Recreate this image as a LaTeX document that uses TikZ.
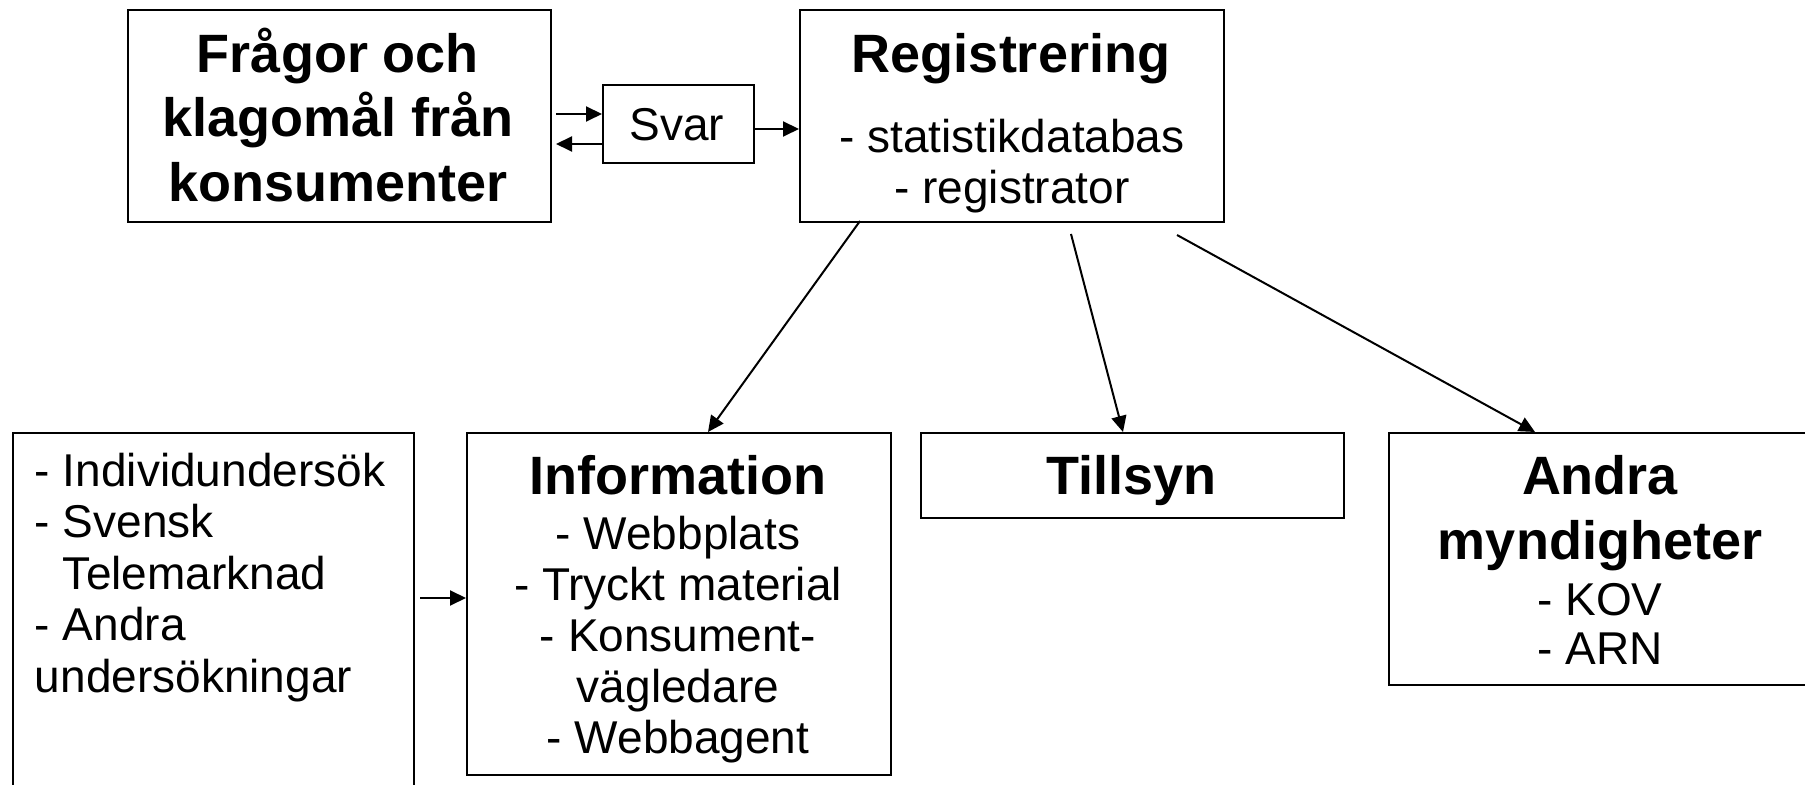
\documentclass[tikz,border=0pt]{standalone}
\usepackage{fontspec}
\setmainfont{Liberation Sans}
\usetikzlibrary{arrows.meta}
\tikzset{
  box/.style={draw, line width=1pt, inner sep=0pt, anchor=north west},
  ttl/.style={font=\fontsize{27}{32.25}\selectfont\bfseries, inner sep=0pt, anchor=base, align=center},
  lst/.style={font=\fontsize{23}{25.5}\selectfont, inner sep=0pt, anchor=base, align=center},
  arr/.style={line width=1pt, -{Triangle[length=8pt,width=7.5pt]}}
}
\begin{document}
\begin{tikzpicture}[x=0.5pt,y=-0.5pt]
\useasboundingbox (0,0) rectangle (1805,785);
% boxes
\node[box, minimum width=211.5pt, minimum height=106pt] (fr) at (127,9) {};
\node[box, minimum width=75.5pt, minimum height=39pt] (svar) at (602,84) {};
\node[box, minimum width=212pt, minimum height=106pt] (reg) at (799,9) {};
\node[box, minimum width=200.5pt, minimum height=190pt] (left) at (12,432) {};
\node[box, minimum width=212pt, minimum height=171pt] (info) at (466,432) {};
\node[box, minimum width=211.5pt, minimum height=42.5pt] (till) at (920,432) {};
\node[box, minimum width=212pt, minimum height=126pt] (andra) at (1388,432) {};
% texts (base anchor = baseline of last line)
\node[ttl] (frt) at (338,201.4) {Frågor och\\klagomål från\\konsumenter};
\node[lst] (svt) at (677,140.6) {Svar};
\node[ttl] (regt) at (1011,72.4) {Registrering};
\node[lst] (regl) at (1012,203.6) {- statistikdatabas\\- registrator};
\node[lst, anchor=base west, align=left, font=\fontsize{23}{25.75}\selectfont] (leftt) at (34.5,692.3) {- Individundersök\\- Svensk\\\hphantom{-}\ Telemarknad\\- Andra\\undersökningar};
\node[ttl] (infot) at (678,494.8) {Information};
\node[lst] (infol) at (678,753.6) {- Webbplats\\- Tryckt material\\- Konsument-\\vägledare\\- Webbagent};
\node[ttl] (tillt) at (1131.5,494.8) {Tillsyn};
\node[ttl] (andrat) at (1600,559.3) {Andra\\myndigheter};
\node[lst, font=\fontsize{23}{24.7}\selectfont] (andral) at (1600,664.6) {- KOV\\- ARN};
% connector coordinates
\coordinate (a1s) at (556,114);
\coordinate (a1e) at (602,114);
\coordinate (a2s) at (602,144);
\coordinate (a2e) at (556,144);
\coordinate (a3s) at (753,129);
\coordinate (a3e) at (799,129);
\coordinate (r1) at (860,221);
\coordinate (i1) at (708,432);
\coordinate (r2) at (1071,234);
\coordinate (t1) at (1123,432);
\coordinate (r3) at (1177,235);
\coordinate (n1) at (1535,432);
\coordinate (l1) at (420,598);
\coordinate (l2) at (466,598);
% connectors
\draw[arr] (a1s) -- (a1e);
\draw[arr] (a2s) -- (a2e);
\draw[arr] (a3s) -- (a3e);
\draw[arr] (r1) -- (i1);
\draw[arr] (r2) -- (t1);
\draw[arr] (r3) -- (n1);
\draw[arr] (l1) -- (l2);
\end{tikzpicture}
\end{document}
